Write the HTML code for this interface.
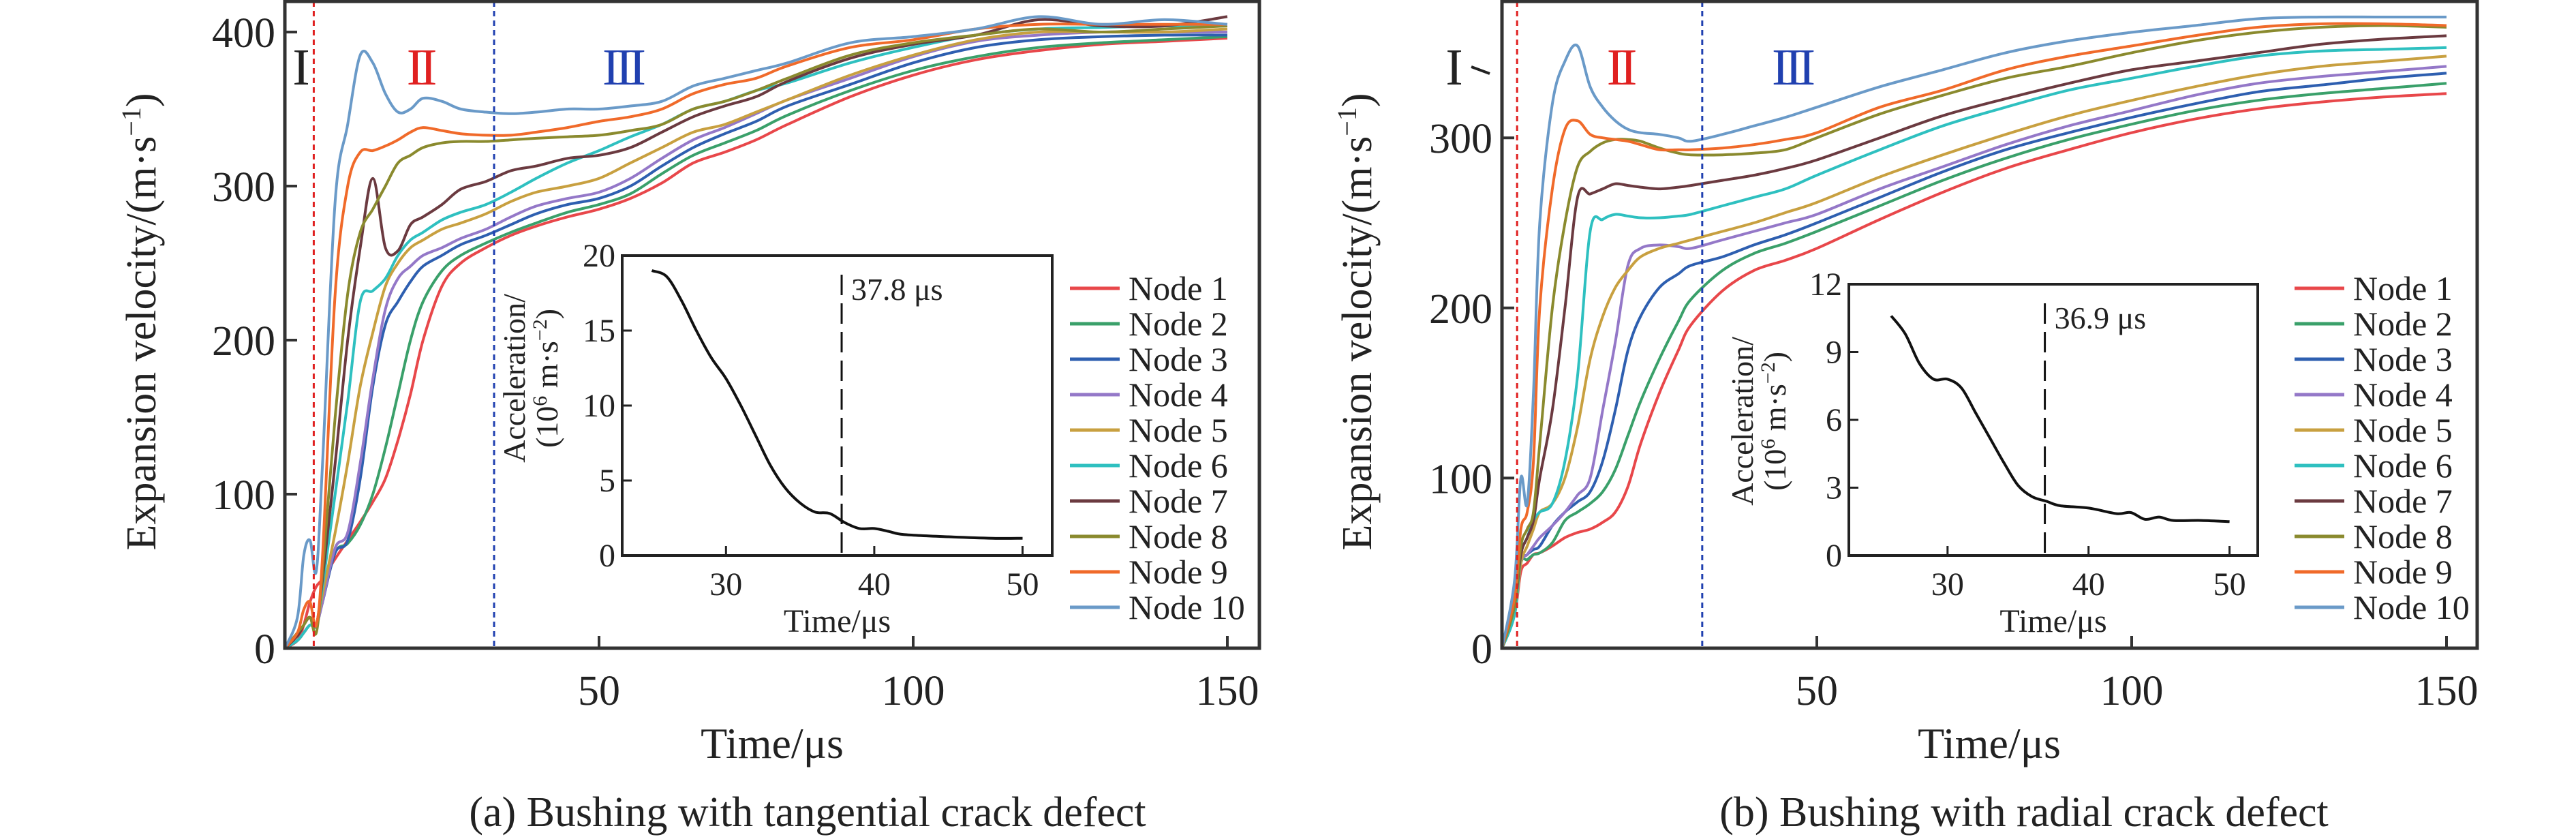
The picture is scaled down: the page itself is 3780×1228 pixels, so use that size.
<!DOCTYPE html>
<html><head><meta charset="utf-8"><style>
html,body{margin:0;padding:0;background:#fff;}
svg{display:block;font-family:"Liberation Serif",serif;}
</style></head><body>
<svg id="chart" width="3780" height="1228" viewBox="0 0 3780 1228" xmlns="http://www.w3.org/2000/svg"></svg>
<script>
const nodeNames=["Node 1","Node 2","Node 3","Node 4","Node 5","Node 6","Node 7","Node 8","Node 9","Node 10"];
const nodeColors=["#e8474a","#3aa06a","#2e5fb0","#9478c8","#c8a040","#2ec0c0","#6b3a40","#8a8a2e","#f06a2a","#6a9ac8"];
const xTicks=[50,100,150];
const yTicksA=[0,100,200,300,400];
const yTicksB=[0,100,200,300];
const timeA=[0,2,3,4,5,6,8,10,12,14,16,18,20,22,25,28,32,36,40,45,50,55,60,65,70,75,80,90,100,110,120,130,140,150];
const velA1=[0,5,15,30,40,45,58,70,82,95,110,135,165,200,235,250,260,268,274,280,285,292,302,315,322,330,340,358,372,382,388,392,394,396];
const velA2=[0,5,10,15,15,30,62,68,80,100,130,165,200,225,245,255,263,270,276,283,288,295,308,320,328,336,346,362,375,384,390,393,395,397];
const velA3=[0,5,10,15,15,30,62,70,110,170,210,225,238,248,255,262,268,275,282,288,292,300,313,325,334,342,352,366,380,390,395,397,398,398];
const velA4=[0,5,10,15,15,30,65,75,120,175,220,240,248,255,260,266,272,280,287,292,296,305,318,330,338,347,356,370,384,394,398,400,400,400];
const velA5=[0,5,10,15,15,35,75,120,170,205,235,250,260,265,272,276,282,290,296,300,305,315,325,335,340,348,356,372,385,395,400,400,400,402];
const velA6=[0,5,10,15,15,40,100,160,225,232,240,255,265,270,278,283,288,296,305,315,323,332,340,350,355,362,367,380,390,398,402,403,404,404];
const velA7=[0,8,15,20,15,45,120,200,260,305,260,258,275,280,288,298,303,310,313,318,320,325,335,345,352,358,368,383,392,398,408,404,404,410];
const velA8=[0,10,15,20,10,50,150,230,270,285,300,315,320,325,328,329,329,330,331,332,333,336,340,350,355,362,370,385,393,398,402,400,402,404];
const velA9=[0,10,25,30,15,60,230,300,322,323,326,330,335,338,336,334,333,333,335,338,342,345,350,360,366,370,378,390,395,402,405,405,405,405];
const velA10=[0,20,60,70,50,120,290,340,385,380,360,348,350,357,355,350,348,347,348,350,350,352,355,365,370,375,380,393,397,402,410,405,408,405];
const timeB=[0,2,3,4,5,6,8,10,12,14,16,18,20,22,25,28,30,35,40,45,50,60,70,80,90,100,110,120,130,140,150];
const velB1=[0,20,45,50,55,56,60,65,68,70,74,80,95,120,150,175,190,210,222,228,235,252,268,282,293,303,311,317,321,324,326];
const velB2=[0,20,50,52,55,56,62,75,80,85,92,105,125,145,170,192,205,222,232,238,245,260,275,288,299,308,316,322,326,329,332];
const velB3=[0,20,50,55,58,60,72,80,86,92,110,140,175,195,212,220,225,230,237,243,250,265,280,293,303,312,320,327,331,335,338];
const velB4=[0,20,50,55,60,65,72,80,90,100,140,180,225,235,237,236,235,240,245,250,255,270,283,296,307,316,325,332,336,339,342];
const velB5=[0,20,50,60,70,80,85,100,130,170,195,212,222,230,235,238,240,245,250,256,262,277,290,302,313,322,330,337,342,345,348];
const velB6=[0,20,55,65,75,80,85,110,160,245,252,255,254,253,253,254,255,260,265,270,278,293,307,318,328,335,342,348,351,352,353];
const velB7=[0,25,55,65,75,100,140,200,265,267,270,273,272,271,270,271,272,275,278,282,287,300,313,323,332,340,345,350,355,358,360];
const velB8=[0,25,60,70,80,120,200,250,283,292,297,299,299,298,294,291,290,290,291,293,300,314,325,335,342,350,357,362,365,366,365];
const velB9=[0,30,70,80,110,200,270,305,310,302,300,299,298,296,293,293,293,294,296,299,303,318,328,340,348,354,360,365,367,367,366];
const velB10=[0,40,100,85,150,250,320,345,354,330,318,310,305,303,302,300,298,302,307,312,318,330,340,350,357,362,366,370,371,371,371];
const insetTimeA=[25,26,27,28,29,30,31,32,33,34,35,36,37,38,39,40,41,42,45,48,50];
const insetAccA=[19,18.6,17,15,13.2,11.8,10,8,6,4.5,3.5,2.9,2.8,2.2,1.8,1.8,1.6,1.4,1.25,1.15,1.15];
const insetTimeB=[26,27,28,29,30,31,32,33,34,35,36,37,38,40,42,43,44,45,46,48,50];
const insetAccB=[10.6,9.8,8.5,7.8,7.8,7.4,6.3,5.2,4.1,3.1,2.6,2.4,2.2,2.1,1.85,1.9,1.6,1.7,1.55,1.55,1.5];
const insetXTicks=[30,40,50];
const insetYTicksA=[0,5,10,15,20];
const insetYTicksB=[0,3,6,9,12];
const markerA=37.8, markerB=36.9;

const NS="http://www.w3.org/2000/svg";
const svg=document.getElementById('chart');
function el(tag,attrs,parent,text){const e=document.createElementNS(NS,tag);for(const k in attrs)e.setAttribute(k,attrs[k]);if(text!==undefined)e.textContent=text;(parent||svg).appendChild(e);return e;}
function smoothPath(pts){let d="M"+pts[0][0].toFixed(1)+","+pts[0][1].toFixed(1);for(let i=0;i<pts.length-1;i++){const p0=pts[Math.max(0,i-1)],p1=pts[i],p2=pts[i+1],p3=pts[Math.min(pts.length-1,i+2)];const c1=[p1[0]+(p2[0]-p0[0])/6,p1[1]+(p2[1]-p0[1])/6],c2=[p2[0]-(p3[0]-p1[0])/6,p2[1]-(p3[1]-p1[1])/6];d+=" C"+c1[0].toFixed(1)+","+c1[1].toFixed(1)+" "+c2[0].toFixed(1)+","+c2[1].toFixed(1)+" "+p2[0].toFixed(1)+","+p2[1].toFixed(1);}return d;}

function panel(cfg){
  const g=el('g',{});
  
  
  const X=v=>cfg.x0+(v-0)*cfg.xs, Y=v=>cfg.y0-v*cfg.ys;
  for(let n=0;n<10;n++){
    const pts=cfg.time.map((t,i)=>[X(t),Y(cfg.series[n][i])]);
    const p=el('path',{d:smoothPath(pts),fill:'none',stroke:nodeColors[n],'stroke-width':4},g);
    
    
  }
  const r1=el('line',{x1:X(cfg.redT),x2:X(cfg.redT),y1:cfg.top,y2:cfg.y0,stroke:'#e02020','stroke-width':3,'stroke-dasharray':'8 6'},g);
  
  
  const r2=el('line',{x1:X(cfg.blueT),x2:X(cfg.blueT),y1:cfg.top,y2:cfg.y0,stroke:'#2040b0','stroke-width':3,'stroke-dasharray':'8 6'},g);
  
  
  const s1=el('text',{x:cfg.s1x,y:124,'font-size':76,fill:'#222','text-anchor':'middle'},g,'I');
  
  
  const s2=el('text',{x:cfg.s2x,y:124,'font-size':76,fill:'#e02020','text-anchor':'middle','letter-spacing':-6},g,'II');
  
  
  const s3=el('text',{x:cfg.s3x,y:124,'font-size':76,fill:'#2040b0','text-anchor':'middle','letter-spacing':-6},g,'III');
  
  
  if(cfg.s1tick){el('line',{x1:cfg.s1x+25,y1:98,x2:cfg.s1x+52,y2:108,stroke:'#222','stroke-width':4},g);}
  const fr=el('rect',{x:cfg.x0,y:cfg.top,width:cfg.right-cfg.x0,height:cfg.y0-cfg.top,fill:'none',stroke:'#333','stroke-width':5},g);
  
  
  xTicks.forEach(t=>{el('line',{x1:X(t),x2:X(t),y1:cfg.y0,y2:cfg.y0-18,stroke:'#333','stroke-width':4},g);
    const tl=el('text',{x:X(t),y:cfg.y0+83,'font-size':62,'text-anchor':'middle',fill:'#222'},g,String(t));
    
    });
  cfg.yTicks.forEach(t=>{el('line',{x1:cfg.x0,x2:cfg.x0+18,y1:Y(t),y2:Y(t),stroke:'#333','stroke-width':4},g);
    const tl=el('text',{x:cfg.x0-14,y:Y(t)+22,'font-size':62,'text-anchor':'end',fill:'#222'},g,String(t));
    
    });
  const xt=el('text',{x:cfg.xTitleX,y:1112,'font-size':64,'text-anchor':'middle',fill:'#222'},g,'Time/μs');
  
  
  const yt=el('text',{x:0,y:0,'font-size':62,'text-anchor':'middle',fill:'#222',transform:`translate(${cfg.yTitleX},472) rotate(-90)`},g);
  
  
  yt.innerHTML='Expansion velocity/(m·s<tspan dy="-22" font-size="40">−1</tspan><tspan dy="22">)</tspan>';
  const cap=el('text',{x:cfg.capX,y:1212,'font-size':62,'text-anchor':'middle',fill:'#222'},g,cfg.caption);
  
  
  for(let n=0;n<10;n++){
    const ly=cfg.legY+n*52;
    const lg=el('g',{},g);
    
    
    el('line',{x1:cfg.legX,x2:cfg.legX+73,y1:ly,y2:ly,stroke:nodeColors[n],'stroke-width':5},lg);
    el('text',{x:cfg.legX+86,y:ly+17,'font-size':50,fill:'#222'},lg,nodeNames[n]);
  }
  const ig=el('g',{},g);
  
  
  const IX=v=>cfg.in.l+(v-23)*(cfg.in.r-cfg.in.l)/29, IY=v=>cfg.in.b-v*(cfg.in.b-cfg.in.t)/cfg.in.ymax;
  const ip=el('path',{d:smoothPath(cfg.inT.map((t,i)=>[IX(t),IY(cfg.inA[i])])),fill:'none',stroke:'#111','stroke-width':4},ig);
  
  
  const dl=el('line',{x1:IX(cfg.marker),x2:IX(cfg.marker),y1:cfg.in.t+28,y2:cfg.in.b,stroke:'#111','stroke-width':3,'stroke-dasharray':'30 12'},ig);
  
  
  const ml=el('text',{x:IX(cfg.marker)+14,y:cfg.in.t+65,'font-size':46,fill:'#222'},ig,cfg.marker.toFixed(1)+' μs');
  
  
  el('rect',{x:cfg.in.l,y:cfg.in.t,width:cfg.in.r-cfg.in.l,height:cfg.in.b-cfg.in.t,fill:'none',stroke:'#222','stroke-width':4},ig);
  insetXTicks.forEach(t=>{el('line',{x1:IX(t),x2:IX(t),y1:cfg.in.b,y2:cfg.in.b-14,stroke:'#222','stroke-width':3},ig);
    el('text',{x:IX(t),y:cfg.in.b+58,'font-size':48,'text-anchor':'middle',fill:'#222'},ig,String(t));});
  cfg.inY.forEach(t=>{el('line',{x1:cfg.in.l,x2:cfg.in.l+14,y1:IY(t),y2:IY(t),stroke:'#222','stroke-width':3},ig);
    el('text',{x:cfg.in.l-10,y:IY(t)+16,'font-size':48,'text-anchor':'end',fill:'#222'},ig,String(t));});
  el('text',{x:(cfg.in.l+cfg.in.r)/2,y:cfg.in.b+112,'font-size':48,'text-anchor':'middle',fill:'#222'},ig,'Time/μs');
  el('text',{x:0,y:0,'font-size':46,'text-anchor':'middle',fill:'#222',transform:`translate(${cfg.inTitleX},${cfg.inTitleY}) rotate(-90)`},ig,'Acceleration/');
  const t2=el('text',{x:0,y:0,'font-size':46,'text-anchor':'middle',fill:'#222',transform:`translate(${cfg.inTitleX+48},${cfg.inTitleY}) rotate(-90)`},ig);
  t2.innerHTML='(10<tspan dy="-16" font-size="30">6</tspan><tspan dy="16"> m·s</tspan><tspan dy="-16" font-size="30">−2</tspan><tspan dy="16">)</tspan>';
}

panel({name:'panel-a-tangential',x0:418,xs:9.22,y0:951,ys:2.26,top:2,right:1848,yTicks:yTicksA,time:timeA,
  series:[velA1,velA2,velA3,velA4,velA5,velA6,velA7,velA8,velA9,velA10],redT:4.6,blueT:33.3,s1x:442,s2x:616,s3x:913,s1tick:false,
  xTitleX:1133,yTitleX:228,capX:1185,caption:'(a) Bushing with tangential crack defect',legX:1570,legY:423,
  in:{l:913,r:1544,t:375,b:815,ymax:20},inT:insetTimeA,inA:insetAccA,inY:insetYTicksA,marker:markerA,inTitleX:770,inTitleY:555});
panel({name:'panel-b-radial',x0:2204,xs:9.24,y0:951,ys:2.496,top:2,right:3635,yTicks:yTicksB,time:timeB,
  series:[velB1,velB2,velB3,velB4,velB5,velB6,velB7,velB8,velB9,velB10],redT:2.4,blueT:31.8,s1x:2134,s2x:2377,s3x:2629,s1tick:true,
  xTitleX:2919,yTitleX:2012,capX:2970,caption:'(b) Bushing with radial crack defect',legX:3367,legY:423,
  in:{l:2713,r:3313,t:417,b:815,ymax:12},inT:insetTimeB,inA:insetAccB,inY:insetYTicksB,marker:markerB,inTitleX:2572,inTitleY:618});
</script>
</body></html>
